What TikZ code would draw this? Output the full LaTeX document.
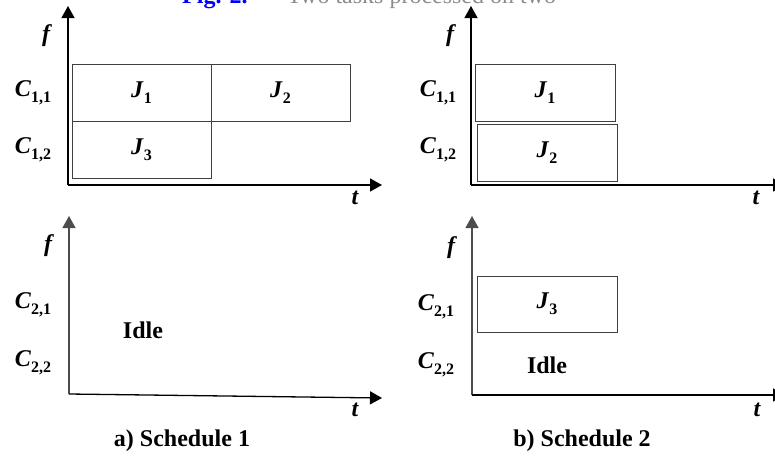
\documentclass[tikz,border=0pt]{standalone}
\usepackage{fontspec}
\setmainfont{Liberation Serif}
\usetikzlibrary{arrows.meta}
\newcommand\lbl[2]{\textbf{\textit{#1}}\raisebox{-0.25em}{\fontsize{16}{18}\selectfont\bfseries #2}}
\begin{document}
\begin{tikzpicture}[x=1pt,y=-1pt,
  axis/.style={line width=1.3pt,-{Triangle[length=12pt,width=13pt]}},
  jobbox/.style={draw=black!75,line width=1pt,inner sep=0pt,font=\fontsize{24}{28}\selectfont},
  txt/.style={inner sep=0pt,font=\fontsize{24}{28}\selectfont},
  bt/.style={txt,font=\fontsize{24}{28}\selectfont\bfseries},
  vt/.style={txt,font=\fontsize{24}{28}\selectfont\bfseries\itshape}]
\useasboundingbox (0,0) rectangle (775,455);
% caption fragment at the top (cut off)
\begin{scope}
\clip (0,0) rectangle (775,455);
\node[txt,anchor=base west,text=blue] (figno) at (182,4) {\textbf{Fig. 2.}};
\node[txt,anchor=base west,text=black!45] (figcap) at (287,4) {Two tasks processed on two};
\end{scope}
% ---------- top left ----------
\coordinate (oA) at (68,185);
\coordinate (yA) at (68,6);
\coordinate (xA) at (382,185);
\draw[axis] (oA) -- (yA);
\draw[axis] (oA) -- (xA);
\node[vt] (fA) at (46,36) {f};
\node[vt] (tA) at (355,198) {t};
\node[txt] (c11A) at (33,93) {\lbl{C}{1,1}};
\node[txt] (c12A) at (33,150) {\lbl{C}{1,2}};
\node[jobbox,minimum width=139pt,minimum height=57pt] (j1A) at (141.5,92.5) {\lbl{J}{1}};
\node[jobbox,minimum width=139pt,minimum height=57pt] (j2A) at (280.5,92.5) {\lbl{J}{2}};
\node[jobbox,minimum width=139pt,minimum height=57pt] (j3A) at (141.5,149.5) {\lbl{J}{3}};
% ---------- top right ----------
\coordinate (oB) at (471,185);
\coordinate (yB) at (471,6);
\coordinate (xB) at (785,185);
\draw[axis] (oB) -- (yB);
\draw[axis] (oB) -- (xB);
\node[vt] (fB) at (450,36) {f};
\node[vt] (tB) at (756,198) {t};
\node[txt] (c11B) at (438,93) {\lbl{C}{1,1}};
\node[txt] (c12B) at (438,150) {\lbl{C}{1,2}};
\node[jobbox,minimum width=140pt,minimum height=57pt] (j1B) at (545,92.5) {\lbl{J}{1}};
\node[jobbox,minimum width=140pt,minimum height=57pt] (j2B) at (547,152.5) {\lbl{J}{2}};
% ---------- bottom left ----------
\coordinate (oC) at (69,394);
\coordinate (yC) at (69,216);
\coordinate (xC) at (382,398);
\draw[axis,draw=black!70] (oC) -- (yC);
\draw[axis] (oC) -- (xC);
\node[vt] (fC) at (48,246) {f};
\node[vt] (tC) at (355,410) {t};
\node[txt] (c21C) at (33,305) {\lbl{C}{2,1}};
\node[txt] (c22C) at (33,363) {\lbl{C}{2,2}};
\node[bt] (idleC) at (143,330) {Idle};
\node[bt] (capA) at (182,441) {a) Schedule 1};
% ---------- bottom right ----------
\coordinate (oD) at (472,395);
\coordinate (yD) at (472,216);
\coordinate (xD) at (785,395);
\draw[axis,draw=black!70] (oD) -- (yD);
\draw[axis] (oD) -- (xD);
\node[vt] (fD) at (451,248) {f};
\node[vt] (tD) at (757,410) {t};
\node[txt] (c21D) at (436,307) {\lbl{C}{2,1}};
\node[txt] (c22D) at (436,365) {\lbl{C}{2,2}};
\node[jobbox,minimum width=140pt,minimum height=56pt] (j3D) at (547,304) {\lbl{J}{3}};
\node[bt] (idleD) at (547,365) {Idle};
\node[bt] (capB) at (582,441) {b) Schedule 2};
\end{tikzpicture}
\end{document}
